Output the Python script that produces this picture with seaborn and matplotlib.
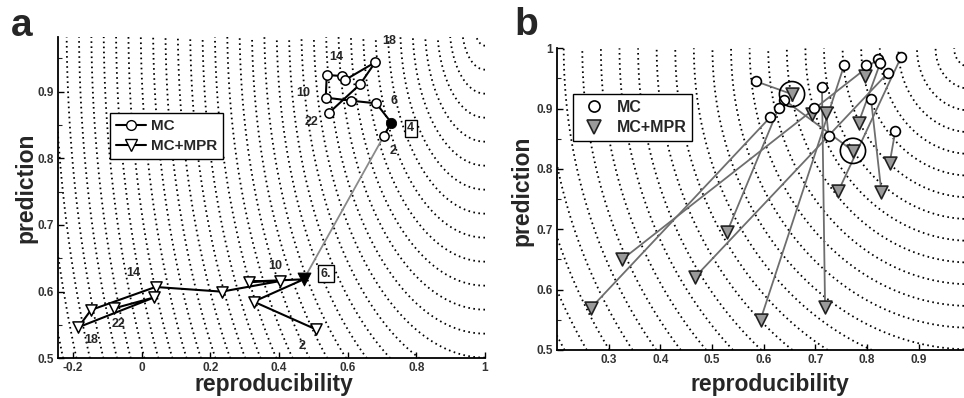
import numpy as np
import pandas as pd
import matplotlib
matplotlib.use("Agg")
import matplotlib.pyplot as plt
import seaborn as sns
from matplotlib.lines import Line2D
from matplotlib.ticker import MultipleLocator

sns.set_style("ticks")
plt.rcParams["font.family"] = ["Liberation Sans", "DejaVu Sans"]

# ---------------- data: panel a ----------------
a_numbers = [2, 4, 6, 8, 10, 12, 14, 16, 18, 20, 22]
a_mc_x = [0.705, 0.727, 0.683, 0.609, 0.536, 0.539, 0.582, 0.592, 0.680, 0.636, 0.546]
a_mc_y = [0.8335, 0.8535, 0.8825, 0.8865, 0.891, 0.925, 0.9235, 0.9175, 0.944, 0.911, 0.8685]
a_mpr_x = [0.507, 0.326, 0.472, 0.311, 0.404, 0.233, 0.040, -0.148, -0.185, 0.037, -0.080]
a_mpr_y = [0.5435, 0.585, 0.6185, 0.615, 0.616, 0.600, 0.607, 0.5725, 0.5465, 0.5915, 0.575]
a_mc_best = 4
a_mpr_best = 6
a_xticks = [-0.2, 0, 0.2, 0.4, 0.6, 0.8, 1]
a_xticklabels = ["-0.2", "0", "0.2", "0.4", "0.6", "0.8", "1"]
a_yticks = [0.5, 0.6, 0.7, 0.8, 0.9]
a_yticklabels = ["0.5", "0.6", "0.7", "0.8", "0.9"]

# ---------------- data: panel b (pairs MC -> MC+MPR) ----------------
b_mc_x = [0.586, 0.639, 0.629, 0.613, 0.697, 0.713, 0.756, 0.799, 0.821, 0.826, 0.840, 0.866, 0.808, 0.855, 0.726]
b_mc_y = [0.945, 0.915, 0.9006, 0.886, 0.9006, 0.9365, 0.972, 0.972, 0.982, 0.976, 0.9586, 0.985, 0.9155, 0.863, 0.8547]
b_mpr_x = [0.655, 0.773, 0.529, 0.265, 0.694, 0.719, 0.594, 0.797, 0.326, 0.784, 0.468, 0.745, 0.828, 0.844, 0.721]
b_mpr_y = [0.924, 0.830, 0.695, 0.569, 0.891, 0.571, 0.550, 0.954, 0.650, 0.877, 0.6215, 0.764, 0.762, 0.8094, 0.8934]
b_highlight = [0, 1]
b_xticks = [0.3, 0.4, 0.5, 0.6, 0.7, 0.8, 0.9]
b_xticklabels = ["0.3", "0.4", "0.5", "0.6", "0.7", "0.8", "0.9"]
b_yticks = [0.5, 0.6, 0.7, 0.8, 0.9, 1.0]
b_yticklabels = ["0.5", "0.6", "0.7", "0.8", "0.9", "1"]

# iso-distance contours around the ideal point (1, 1)
ideal_point = (1.0, 1.0)
contour_first = 0.031
contour_step = 0.036

fig = plt.figure(figsize=(9.64, 3.98), dpi=100)
W, H = 964.0, 398.0
ax_a = fig.add_axes([57.7 / W, 1 - 358.3 / H, (485 - 57.7) / W, (358.3 - 37) / H])
ax_b = fig.add_axes([557 / W, 1 - 350 / H, (964 - 557) / W, (350 - 48.3) / H])

a_xlim, a_ylim = (-0.245, 1.0), (0.5, 0.982)
b_xlim, b_ylim = (0.2, 0.988), (0.5, 1.0)


def draw_contours(ax, xlim, ylim):
    gx = np.linspace(xlim[0], xlim[1], 600)
    gy = np.linspace(ylim[0], ylim[1], 600)
    X, Y = np.meshgrid(gx, gy)
    D = np.hypot(ideal_point[0] - X, ideal_point[1] - Y)
    levels = np.arange(contour_first, 2.0, contour_step)
    cs = ax.contour(X, Y, D, levels=levels, colors="black", linewidths=1.3, zorder=1)
    cs.set_linestyle((0, (0.9, 1.9)))
    return cs


for ax, xl, yl in [(ax_a, a_xlim, a_ylim), (ax_b, b_xlim, b_ylim)]:
    draw_contours(ax, xl, yl)

# ---------------- panel a ----------------
df_mc = pd.DataFrame({"n": a_numbers, "x": a_mc_x, "y": a_mc_y})
df_mpr = pd.DataFrame({"n": a_numbers, "x": a_mpr_x, "y": a_mpr_y})

sns.lineplot(data=df_mc, x="x", y="y", sort=False, estimator=None, color="black",
             linewidth=1.5, ax=ax_a, zorder=3)
sns.lineplot(data=df_mpr, x="x", y="y", sort=False, estimator=None, color="black",
             linewidth=1.5, ax=ax_a, zorder=3)
best_link = pd.DataFrame({
    "x": [df_mc.loc[df_mc.n == a_mc_best, "x"].iloc[0], df_mpr.loc[df_mpr.n == a_mpr_best, "x"].iloc[0]],
    "y": [df_mc.loc[df_mc.n == a_mc_best, "y"].iloc[0], df_mpr.loc[df_mpr.n == a_mpr_best, "y"].iloc[0]],
})
sns.lineplot(data=best_link, x="x", y="y", sort=False, estimator=None, color="#8a8a8a",
             linewidth=1.3, ax=ax_a, zorder=2)
sns.scatterplot(data=df_mc[df_mc.n != a_mc_best], x="x", y="y", marker="o", s=45,
                facecolor="white", edgecolor="black", linewidth=1.1, ax=ax_a, zorder=4)
sns.scatterplot(data=df_mpr[df_mpr.n != a_mpr_best], x="x", y="y", marker="v", s=65,
                facecolor="white", edgecolor="black", linewidth=1.1, ax=ax_a, zorder=4)
sns.scatterplot(data=df_mc[df_mc.n == a_mc_best], x="x", y="y", marker="o", s=55,
                color="black", edgecolor="black", ax=ax_a, zorder=5)
sns.scatterplot(data=df_mpr[df_mpr.n == a_mpr_best], x="x", y="y", marker="v", s=85,
                color="black", edgecolor="black", ax=ax_a, zorder=5)

mc_label_off = {2: (7, -11), 6: (13, 2), 10: (-16, 3), 14: (-4, 14), 18: (10, 15), 22: (-13, -7)}
mpr_label_off = {2: (-10, -12), 10: (-4, 11), 14: (-16, 10), 18: (9, -9), 22: (3, -11)}
for n, (dx, dy) in mc_label_off.items():
    r = df_mc[df_mc.n == n].iloc[0]
    ax_a.annotate(str(n), (r.x, r.y), xytext=(dx, dy), textcoords="offset points",
                  ha="center", va="center", fontsize=9, fontweight="bold", zorder=6)
for n, (dx, dy) in mpr_label_off.items():
    r = df_mpr[df_mpr.n == n].iloc[0]
    ax_a.annotate(str(n), (r.x, r.y), xytext=(dx, dy), textcoords="offset points",
                  ha="center", va="center", fontsize=9, fontweight="bold", zorder=6)
box = dict(boxstyle="square,pad=0.2", facecolor="white", edgecolor="black", linewidth=1)
r = df_mc[df_mc.n == a_mc_best].iloc[0]
ax_a.annotate(str(a_mc_best), (r.x, r.y), xytext=(14, -4), textcoords="offset points",
              ha="center", va="center", fontsize=9, fontweight="bold", bbox=box, zorder=6)
r = df_mpr[df_mpr.n == a_mpr_best].iloc[0]
ax_a.annotate(str(a_mpr_best) + ".", (r.x, r.y), xytext=(16, 4), textcoords="offset points",
              ha="center", va="center", fontsize=9, fontweight="bold", bbox=box, zorder=6)

handles_a = [
    Line2D([], [], color="black", lw=1.5, marker="o", ms=7, mfc="white", mec="black"),
    Line2D([], [], color="black", lw=1.5, marker="v", ms=8, mfc="white", mec="black"),
]
leg_a = ax_a.legend(handles_a, ["MC", "MC+MPR"], loc="upper left", bbox_to_anchor=(0.122, 0.763),
                    prop={"weight": "bold", "size": 11}, fancybox=False, edgecolor="black",
                    framealpha=1, handlelength=2.0, handletextpad=0.3, borderpad=0.4,
                    labelspacing=0.4, borderaxespad=0)
leg_a.get_frame().set_linewidth(1.0)

# ---------------- panel b ----------------
df_b = pd.DataFrame({
    "pair": list(range(len(b_mc_x))) * 2,
    "x": b_mc_x + b_mpr_x,
    "y": b_mc_y + b_mpr_y,
})
sns.lineplot(data=df_b, x="x", y="y", units="pair", estimator=None, sort=False,
             color="#6e6e6e", linewidth=1.3, ax=ax_b, zorder=2)
df_bmc = pd.DataFrame({"x": b_mc_x, "y": b_mc_y})
df_bmpr = pd.DataFrame({"x": b_mpr_x, "y": b_mpr_y})
sns.scatterplot(data=df_bmpr, x="x", y="y", marker="v", s=85, color="#9a9a9a",
                edgecolor="#222222", linewidth=1.2, ax=ax_b, zorder=3)
sns.scatterplot(data=df_bmc, x="x", y="y", marker="o", s=50, facecolor="white",
                edgecolor="black", linewidth=1.2, ax=ax_b, zorder=4)
sns.scatterplot(data=df_bmpr.iloc[b_highlight], x="x", y="y", marker="o", s=330,
                facecolor="none", edgecolor="black", linewidth=1.2, ax=ax_b, zorder=5)

handles_b = [
    Line2D([], [], ls="none", marker="o", ms=8, mfc="white", mec="black", mew=1.2),
    Line2D([], [], ls="none", marker="v", ms=9.5, mfc="#9a9a9a", mec="#222222", mew=1.2),
]
leg_b = ax_b.legend(handles_b, ["MC", "MC+MPR"], loc="upper left", bbox_to_anchor=(0.0386, 0.8475),
                    prop={"weight": "bold", "size": 11.5}, fancybox=False, edgecolor="black",
                    framealpha=1, handlelength=2.0, handletextpad=0.4, borderpad=0.35,
                    labelspacing=0.35, borderaxespad=0)
leg_b.get_frame().set_linewidth(1.0)

# ---------------- axes styling ----------------
for ax, xl, yl, xt, xtl, yt, ytl in [
    (ax_a, a_xlim, a_ylim, a_xticks, a_xticklabels, a_yticks, a_yticklabels),
    (ax_b, b_xlim, b_ylim, b_xticks, b_xticklabels, b_yticks, b_yticklabels),
]:
    ax.set_xlim(*xl)
    ax.set_ylim(*yl)
    ax.set_xticks(xt)
    ax.set_xticklabels(xtl)
    ax.set_yticks(yt)
    ax.set_yticklabels(ytl)
    ax.yaxis.set_minor_locator(MultipleLocator(0.05))
    ax.tick_params(axis="both", which="major", direction="in", length=4, width=1,
                   labelsize=8.5, colors="black", pad=3)
    ax.tick_params(axis="y", which="minor", direction="in", length=3, width=0.8)
    for lab in ax.get_xticklabels() + ax.get_yticklabels():
        lab.set_fontweight("bold")
        lab.set_color("#333333")
    ax.set_xlabel("reproducibility", fontsize=16.5, fontweight="bold")
    ax.set_ylabel("prediction", fontsize=16.5, fontweight="bold")
    sns.despine(ax=ax)
    for sp in ["left", "bottom"]:
        ax.spines[sp].set_linewidth(1.3)
        ax.spines[sp].set_color("black")

# label placement (axes fraction); y labels anchored by their right (descender) edge
ax_a.xaxis.set_label_coords((273.5 - 57.7) / (485 - 57.7), -(373 - 358.3) / (358.3 - 37))
ax_a.xaxis.label.set_va("top")
ax_a.yaxis.set_label_coords(-(57.7 - 37) / (485 - 57.7), (358.3 - 188) / (358.3 - 37))
ax_b.xaxis.set_label_coords((770 - 557) / (964 - 557), -(373 - 350) / (350 - 48.3))
ax_b.xaxis.label.set_va("top")
ax_b.yaxis.set_label_coords(-(557 - 533) / (964 - 557), (350 - 191) / (350 - 48.3))

fig.text(11 / W, 1 - 36 / H, "a", fontsize=28, fontweight="bold", ha="left", va="baseline")
fig.text(514 / W, 1 - 35 / H, "b", fontsize=28, fontweight="bold", ha="left", va="baseline")

fig.savefig("out.png", dpi=100)
